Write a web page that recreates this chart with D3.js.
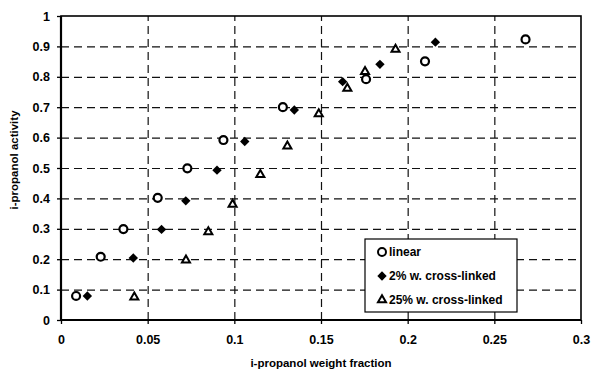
<!DOCTYPE html>
<meta charset="utf-8">
<script src="https://d3js.org/d3.v7.min.js"></script>
<style type="text/css">
body { margin: 0; background: #fff; }
svg { font-family: "Liberation Sans", Arial, sans-serif; font-weight: bold; }
.axis text { font-size: 12.5px; fill: #000; }
.axis path { display: none; }
.axis line { stroke: #000; stroke-width: 1.3px; }
.grid line { stroke: #111; stroke-width: 1.2px; stroke-dasharray: 8 5; }
.grid path { display: none; }
.legend text { font-size: 12px; fill: #000; }
</style>
<body></body>
<script>

// data
var linearX  = [0.0087, 0.0229, 0.036, 0.0558, 0.0729, 0.0937, 0.128, 0.176, 0.210, 0.268];
var linearY  = [0.079, 0.208, 0.299, 0.402, 0.499, 0.592, 0.700, 0.792, 0.851, 0.923];
var cross2X  = [0.0152, 0.0417, 0.058, 0.072, 0.090, 0.106, 0.1346, 0.1625, 0.184, 0.216];
var cross2Y  = [0.079, 0.204, 0.298, 0.392, 0.493, 0.587, 0.691, 0.784, 0.841, 0.914];
var cross25X = [0.0423, 0.0721, 0.085, 0.099, 0.115, 0.1306, 0.1487, 0.1652, 0.1754, 0.193];
var cross25Y = [0.075, 0.197, 0.29, 0.38, 0.478, 0.572, 0.678, 0.762, 0.817, 0.89];

var xTicks = [0, 0.05, 0.1, 0.15, 0.2, 0.25, 0.3];
var yTicks = [0, 0.1, 0.2, 0.3, 0.4, 0.5, 0.6, 0.7, 0.8, 0.9, 1];
var seriesNames = ["linear", "2% w. cross-linked", "25% w. cross-linked"];

var margin = {top: 16, right: 11, bottom: 54, left: 61};
var width = 592 - margin.left - margin.right,
    height = 374 - margin.top - margin.bottom;

var svg = d3.select("body").append("svg")
    .attr("width", 592)
    .attr("height", 374)
  .append("g")
    .attr("transform", "translate(" + margin.left + "," + margin.top + ")");

var xScale = d3.scaleLinear().domain([0, 0.3]).range([0, width]);
var yScale = d3.scaleLinear().domain([0, 1]).range([height, 0]);

// dashed grid
svg.append('g')
  .attr('class', 'grid')
  .call(d3.axisLeft(yScale).tickValues(yTicks.slice(1, -1)).tickSize(-width).tickFormat(''));

svg.append('g')
  .attr('class', 'grid')
  .attr('transform', 'translate(0,' + height + ')')
  .call(d3.axisBottom(xScale).tickValues(xTicks.slice(1, -1)).tickSize(-height).tickFormat(''));

// frame
svg.append('rect')
  .attr('width', width)
  .attr('height', height)
  .style('fill', 'none')
  .style('stroke', '#000')
  .style('stroke-width', 1.6);

svg.append('line').attr('x1', 0).attr('x2', 0).attr('y1', 0).attr('y2', height)
  .style('stroke', '#000').style('stroke-width', 2.2);
svg.append('line').attr('x1', 0).attr('x2', width).attr('y1', height).attr('y2', height)
  .style('stroke', '#000').style('stroke-width', 2.2);

// axes
svg.append('g')
  .attr('class', 'x axis')
  .attr('transform', 'translate(0,' + height + ')')
  .call(d3.axisBottom(xScale).tickValues(xTicks).tickSize(4).tickPadding(11)
    .tickFormat(function(d) { return d3.format('')(+d.toFixed(2)); }));

svg.append('g')
  .attr('class', 'y axis')
  .call(d3.axisLeft(yScale).tickValues(yTicks).tickSize(4).tickPadding(7)
    .tickFormat(function(d) { return d3.format('')(+d.toFixed(1)); }));

// axis titles
svg.append('text')
  .attr('x', width / 2)
  .attr('y', height + 47)
  .attr('text-anchor', 'middle')
  .style('font-size', '11.5px')
  .text('i-propanol weight fraction');

svg.append('text')
  .attr('transform', 'translate(' + (-43) + ',' + (height / 2 - 8) + ') rotate(-90)')
  .attr('text-anchor', 'middle')
  .style('font-size', '11.5px')
  .text('i-propanol activity');

// markers
var circleSym = d3.symbol().type(d3.symbolCircle).size(50);
var diamondSym = d3.symbol().type(d3.symbolSquare).size(44);
var triangleSym = d3.symbol().type(d3.symbolTriangle).size(28);

function drawSeries(xs, ys, kind) {
  var pts = xs.map(function(x, i) { return {x: x, y: ys[i]}; });
  var g = svg.selectAll('.pt-' + kind)
    .data(pts).enter().append('path')
    .attr('class', 'pt-' + kind);
  if (kind === 'circle') {
    g.attr('d', circleSym)
      .attr('transform', function(d) { return 'translate(' + xScale(d.x) + ',' + yScale(d.y) + ')'; })
      .style('fill', '#fff').style('stroke', '#000').style('stroke-width', 2.2);
  } else if (kind === 'diamond') {
    g.attr('d', diamondSym)
      .attr('transform', function(d) { return 'translate(' + xScale(d.x) + ',' + yScale(d.y) + ') rotate(45)'; })
      .style('fill', '#000');
  } else {
    g.attr('d', triangleSym)
      .attr('transform', function(d) { return 'translate(' + xScale(d.x) + ',' + yScale(d.y) + ')'; })
      .style('fill', '#fff').style('stroke', '#000').style('stroke-width', 2);
  }
}

drawSeries(linearX, linearY, 'circle');
drawSeries(cross2X, cross2Y, 'diamond');
drawSeries(cross25X, cross25Y, 'triangle');

// legend
var legend = svg.append('g')
  .attr('class', 'legend')
  .attr('transform', 'translate(' + (365 - margin.left) + ',' + (239 - margin.top) + ')');

legend.append('rect')
  .attr('width', 152)
  .attr('height', 73)
  .style('fill', '#fff')
  .style('stroke', '#000')
  .style('stroke-width', 1.2);

var kinds = ['circle', 'diamond', 'triangle'];
var legendItem = legend.selectAll('.item')
  .data(seriesNames).enter().append('g')
  .attr('class', 'item')
  .attr('transform', function(d, i) { return 'translate(17,' + (13 + i * 24) + ')'; });

legendItem.append('path')
  .attr('d', function(d, i) { return [circleSym, diamondSym, triangleSym][i](); })
  .attr('transform', function(d, i) { return kinds[i] === 'diamond' ? 'rotate(45)' : null; })
  .style('fill', function(d, i) { return kinds[i] === 'diamond' ? '#000' : '#fff'; })
  .style('stroke', function(d, i) { return kinds[i] === 'diamond' ? 'none' : '#000'; })
  .style('stroke-width', 2);

legendItem.append('text')
  .attr('x', 7)
  .attr('dy', '0.35em')
  .text(function(d) { return d; });

</script>
